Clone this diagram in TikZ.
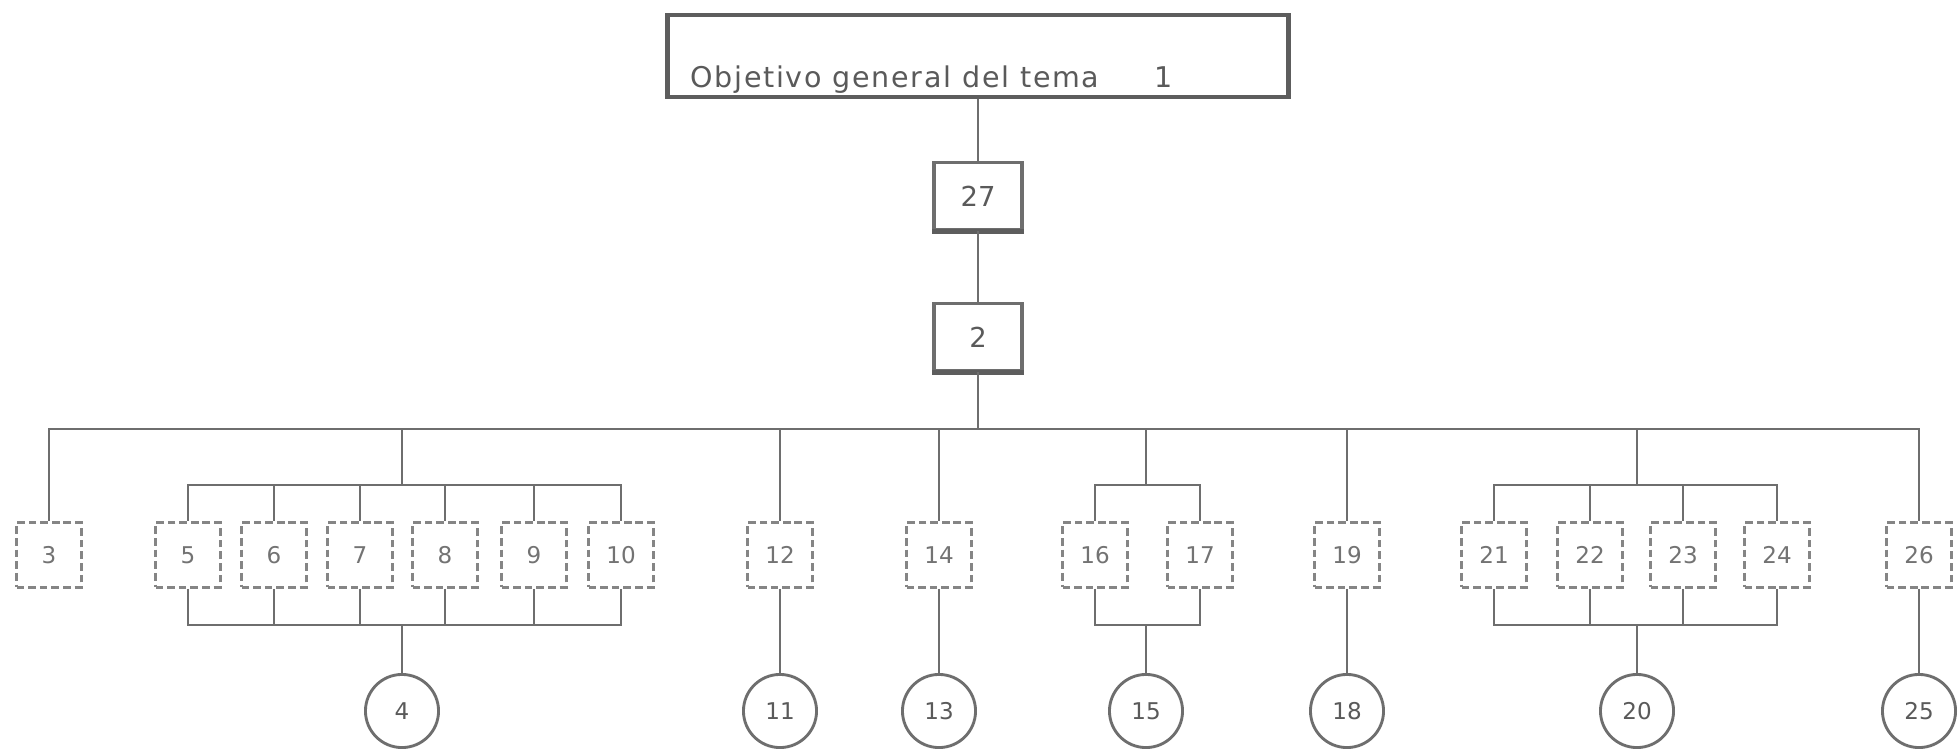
\documentclass[tikz,border=0pt]{standalone}
\usepackage{fontspec}
\setmainfont{DejaVu Sans}
\newfontfamily\lettering[LetterSpace=6]{DejaVu Sans}
\definecolor{ln}{HTML}{6E6E6E}
\definecolor{tx}{HTML}{5A5A5A}
\definecolor{dsh}{HTML}{858585}
\begin{document}
\begin{tikzpicture}[x=0.016cm,y=-0.016cm,
  conn/.style={draw=ln, line width=1.15pt},
  objbox/.style={draw=ln!85!black, line width=2.2pt, minimum width=9.95cm, minimum height=1.31cm, inner sep=0pt},
  numbox/.style={draw=ln, line width=1.6pt, minimum width=1.41cm, minimum height=1.08cm, inner sep=0pt, text=tx, font=\fontsize{12.5}{14}\selectfont},
  shadowline/.style={draw=ln!85!black, line width=2.6pt},
  dbox/.style={draw=dsh, dash pattern=on 3.5pt off 1.8pt, line width=1.5pt, minimum width=1.04cm, minimum height=1.03cm, inner sep=0pt, text=tx!85, font=\fontsize{10.5}{12}\selectfont},
  cnode/.style={circle, draw=ln, line width=1.3pt, minimum size=1.17cm, inner sep=0pt, text=tx, font=\fontsize{10.5}{12}\selectfont}]
\useasboundingbox[fill=white] (0,0) rectangle (1959,749);

% top chain
\node[objbox] (obj) at (978,56) {};
\node[anchor=base west, text=tx, inner sep=0pt, font=\lettering\fontsize{13}{15}\selectfont] (objt) at (690,88) {Objetivo general del tema\hspace{25pt}1};
\node[numbox] (n27) at (978,196) {27};
\node[numbox] (n2) at (978,337) {2};
\draw[shadowline] (n27.south west) -- (n27.south east);
\draw[shadowline] (n2.south west) -- (n2.south east);
\coordinate (bus) at (978,429);
\draw[conn] (obj.south) -- (n27.north);
\draw[conn] (n27.south) -- (n2.north);
\draw[conn] (n2.south) -- (bus);

% dashed boxes
\foreach \n/\x in {3/49,5/188,6/274,7/360,8/445,9/534,10/621,12/780,14/939,16/1095,17/1200,19/1347,21/1494,22/1590,23/1683,24/1777,26/1919}
  \node[dbox] (b\n) at (\x,555) {\n};

% circles
\foreach \n/\x in {4/402,11/780,13/939,15/1146,18/1347,20/1637,25/1919}
  \node[cnode] (c\n) at (\x,711) {\n};

% main bus
\draw[conn] (b3.north) -- (b3.north |- bus) -- (b26.north |- bus) -- (b26.north);
\foreach \n in {12,14,19}
  \draw[conn] (b\n.north) -- (b\n.north |- bus);

% group 5-10
\coordinate (g1t) at (402,485);
\coordinate (g1b) at (402,625);
\draw[conn] (g1t |- bus) -- (g1t);
\draw[conn] (b5.north) -- (b5.north |- g1t) -- (b10.north |- g1t) -- (b10.north);
\draw[conn] (b5.south) -- (b5.south |- g1b) -- (b10.south |- g1b) -- (b10.south);
\foreach \n in {6,7,8,9} {
  \draw[conn] (b\n.north) -- (b\n.north |- g1t);
  \draw[conn] (b\n.south) -- (b\n.south |- g1b);
}
\draw[conn] (g1b) -- (c4.north);

% group 16-17
\coordinate (g2t) at (1146,485);
\coordinate (g2b) at (1146,625);
\draw[conn] (g2t |- bus) -- (g2t);
\draw[conn] (b16.north) -- (b16.north |- g2t) -- (b17.north |- g2t) -- (b17.north);
\draw[conn] (b16.south) -- (b16.south |- g2b) -- (b17.south |- g2b) -- (b17.south);
\draw[conn] (g2b) -- (c15.north);

% group 21-24
\coordinate (g3t) at (1637,485);
\coordinate (g3b) at (1637,625);
\draw[conn] (g3t |- bus) -- (g3t);
\draw[conn] (b21.north) -- (b21.north |- g3t) -- (b24.north |- g3t) -- (b24.north);
\draw[conn] (b21.south) -- (b21.south |- g3b) -- (b24.south |- g3b) -- (b24.south);
\foreach \n in {22,23} {
  \draw[conn] (b\n.north) -- (b\n.north |- g3t);
  \draw[conn] (b\n.south) -- (b\n.south |- g3b);
}
\draw[conn] (g3b) -- (c20.north);

% single chains
\draw[conn] (b12.south) -- (c11.north);
\draw[conn] (b14.south) -- (c13.north);
\draw[conn] (b19.south) -- (c18.north);
\draw[conn] (b26.south) -- (c25.north);
\end{tikzpicture}
\end{document}
